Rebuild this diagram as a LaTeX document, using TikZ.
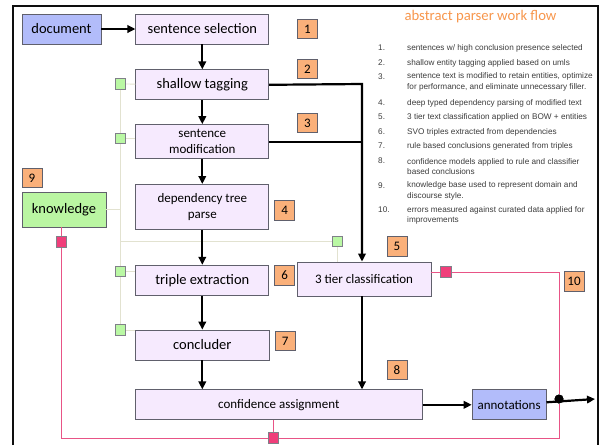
\documentclass[tikz,border=0pt]{standalone}
\usepackage{fontspec}
\setmainfont{Carlito}
\newfontfamily\listfont{Liberation Sans}
\usetikzlibrary{arrows.meta,positioning}

\definecolor{stagefill}{RGB}{246,234,254}
\definecolor{endfill}{RGB}{178,188,250}
\definecolor{numfill}{RGB}{250,176,122}
\definecolor{knowfill}{RGB}{186,246,162}
\definecolor{tagfill}{RGB}{186,248,164}
\definecolor{errfill}{RGB}{240,62,122}
\definecolor{errline}{RGB}{232,84,134}
\definecolor{hintline}{RGB}{226,226,208}
\definecolor{titleorange}{RGB}{247,150,76}
\definecolor{boxline}{RGB}{96,96,108}
\definecolor{listgray}{RGB}{60,60,60}
\definecolor{frameink}{RGB}{14,14,14}

\begin{document}
\begin{tikzpicture}[x=1pt,y=-1pt,
    big/.style={font=\fontsize{14.5}{16}\selectfont},
    small/.style={font=\fontsize{13}{15.7}\selectfont},
    stage/.style={draw=boxline,line width=0.8pt,fill=stagefill,minimum width=133pt,
        minimum height=30pt,align=center,inner sep=1pt,big},
    endbox/.style={stage,fill=endfill},
    knowbox/.style={stage,fill=knowfill},
    numbox/.style={draw=boxline,line width=0.7pt,fill=numfill,minimum width=20pt,
        minimum height=19.5pt,inner sep=0pt,font=\fontsize{13}{13}\selectfont},
    tagbox/.style={draw=boxline!80,line width=0.6pt,fill=tagfill,minimum size=10.5pt,inner sep=0pt},
    errbox/.style={tagbox,fill=errfill},
    flow/.style={line width=2.2pt,-{Triangle[length=8pt,width=7.5pt]}},
    bus/.style={line width=2.2pt},
    hint/.style={draw=hintline,line width=0.8pt},
    err/.style={draw=errline,line width=0.9pt},
    outline/.style={draw=frameink,line width=2.6pt},
    listnum/.style={anchor=west,inner sep=0pt,text=listgray,font=\listfont\fontsize{8.2}{10.5}\selectfont},
    listtxt/.style={listnum,align=left}]

\path[use as bounding box] (0,0) rectangle (602,445);

% pipeline
\node[endbox,minimum width=79pt] (doc) at (61.5,29) {document};
\node[stage,right=34pt of doc] (sel) {sentence selection};
\node[stage,below=25pt of sel] (shal) {shallow tagging};
\node[stage,small,minimum height=34pt,below=24pt of shal] (mod) {sentence\\modification};
\node[stage,small,minimum height=45pt,below=25pt of mod] (dep) {dependency tree\\parse};
\node[stage,below=35pt of dep] (trip) {triple extraction};
\node[stage,minimum width=134pt,below=34pt of trip] (conc) {concluder};
\node[stage,small,minimum width=287pt,below=29pt of conc.south west,anchor=north west] (conf) {confidence assignment};
\node[endbox,small,minimum width=74pt,right=49pt of conf] (ann) {annotations};
\node[stage,small,minimum width=134pt,minimum height=34pt] (tier) at (364,279) {3 tier classification};
\node[knowbox,minimum width=84pt,minimum height=35pt] (know) at (64,209.5) {knowledge};

% step numbers
\node[numbox] (n1) at (307.5,29) {1};
\node[numbox] (n2) at (307.5,69) {2};
\node[numbox] (n3) at (307.5,123) {3};
\node[numbox,right=5pt of dep,yshift=-3.5pt] (n4) {4};
\node[numbox] (n5) at (397,246.5) {5};
\node[numbox,right=5pt of trip,yshift=5pt] (n6) {6};
\node[numbox,right=5pt of conc,yshift=4pt] (n7) {7};
\node[numbox] (n8) at (397,370) {8};
\node[numbox] (n9) at (32,178) {9};
\node[numbox] (n10) at (574,281.5) {10};

% small squares
\node[tagbox] (g1) at (120.5,84) {};
\node[tagbox] (g2) at (120.5,138.5) {};
\node[tagbox] (g3) at (120.5,271.5) {};
\node[tagbox] (g4) at (120.5,330) {};
\node[tagbox] (g5) at (337.5,241.5) {};
\node[errbox] (p1) at (61.5,242) {};
\node[errbox] (p2) at (446,272) {};
\node[errbox] (p3) at (273.5,438) {};
\node[circle,fill=black,minimum size=9pt,inner sep=0pt] (tap) at (559,399) {};

\coordinate (trunk) at (362,84);
\coordinate (out) at (595,399);
\coordinate (loopL) at (61.5,438);
\coordinate (loopR) at (559,438);

% light links
\draw[hint] (g1) -- (g2) -- (g3) -- (g4);
\draw[hint] (g1) -- (shal);
\draw[hint] (g2) -- (g2 -| mod.west);
\draw[hint] (g3) -- (g3 -| trip.west);
\draw[hint] (g4) -- (g4 -| conc.west);
\draw[hint] (know) -- (know -| g1);
\draw[hint] (g1 |- g5) -- (g5) -- (g5 |- tier.north);

% error loop
\draw[err] (know.south -| p1) -- (p1);
\draw[err] (p1) -- (loopL) -- (p3);
\draw[err] (conf.south -| p3) -- (p3);
\draw[err] (p3) -- (loopR) -- (tap) -- (tap |- p2) -- (p2);
\draw[err] (p2) -- (p2 -| tier.east);

% main flow
\draw[flow] (doc) -- (sel);
\draw[flow] (sel) -- (shal);
\draw[flow] (shal) -- (mod);
\draw[flow] (mod) -- (dep);
\draw[flow] (dep) -- (trip);
\draw[flow] (trip) -- (conc);
\draw[flow] (conc.south) -- (conc.south |- conf.north);
\draw[flow] (shal.east) -- (trunk) -- (trunk |- tier.north);
\draw[bus] (mod.east -| shal.east) -- (mod.east -| trunk);
\draw[flow] (tier.south -| trunk) -- (trunk |- conf.north);
\draw[flow] (conf) -- (ann);
\draw[flow] (ann) -- (out);
\fill (tap) circle (4.5pt);

% work flow notes
\node[text=titleorange,font=\fontsize{14.7}{16}\selectfont] (title) at (480.5,17) {abstract parser work flow};
\foreach \i/\ny/\ty/\txt in {
    1/48/48/{sentences w/ high conclusion presence selected},
    2/63/63/{shallow entity tagging applied based on umls},
    3/77/82/{sentence text is modified to retain entities, optimize\\for performance, and eliminate unnecessary filler.},
    4/103/103/{deep typed dependency parsing of modified text},
    5/117/117/{3 tier text classification applied on BOW + entities},
    6/132/132/{SVO triples extracted from dependencies},
    7/146/146/{rule based conclusions generated from triples},
    8/161/166.5/{confidence models applied to rule and classifier\\based conclusions},
    9/186/191/{knowledge base used to represent domain and\\discourse style.},
    10/210/215.5/{errors measured against curated data applied for\\improvements}}
  {
    \node[listnum] (item\i) at (378,\ny) {\i.};
    \node[listtxt] (note\i) at (407,\ty) {\txt};
  }

% outer frame
\path[outline] (13,445) -- (13,6) -- (598,6) -- (598,445);
\end{tikzpicture}
\end{document}
